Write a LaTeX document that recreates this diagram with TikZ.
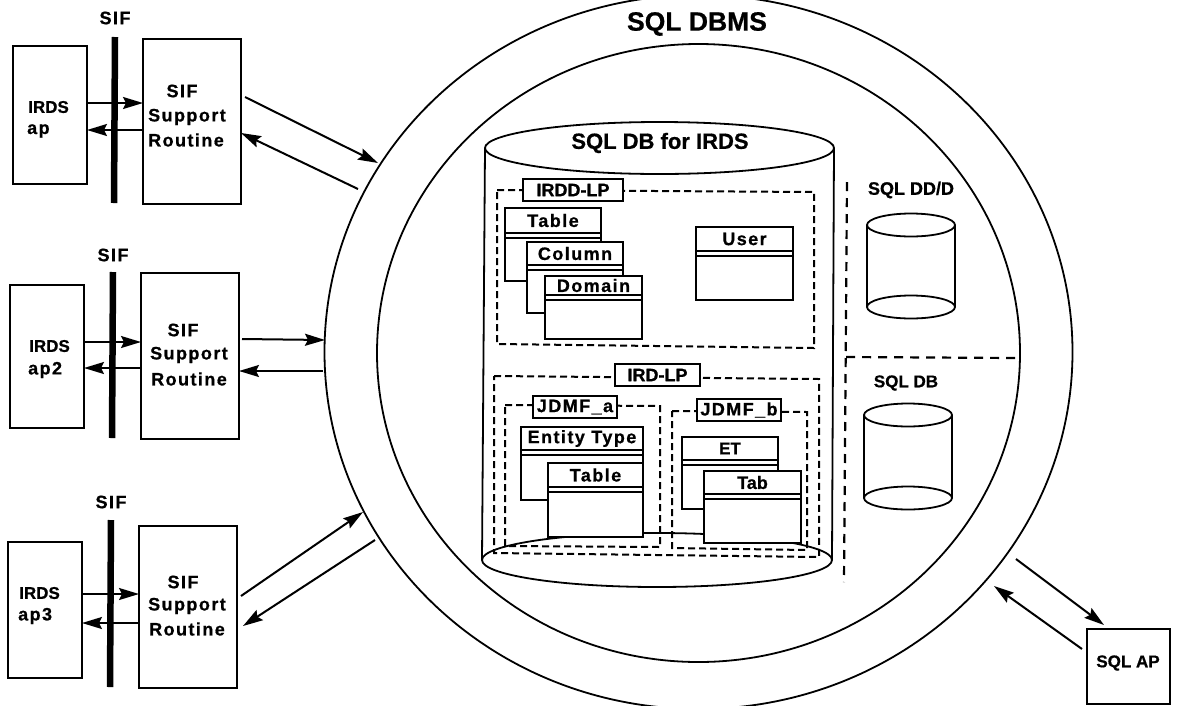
\documentclass[tikz,border=0pt]{standalone}
\usepackage{fontspec}
\setmainfont{Liberation Sans}
\newfontfamily\labf[LetterSpace=8,BoldFeatures={FakeBold=0.7}]{Liberation Sans}
\newfontfamily\tgtf[BoldFeatures={FakeBold=0.7}]{Liberation Sans}
\usetikzlibrary{arrows.meta}
\newcommand\lf{\labf\bfseries\fontsize{18}{18}\selectfont}
\newcommand\tf{\tgtf\bfseries\fontsize{18}{18}\selectfont}
\tikzset{
  lbl/.style={inner sep=0pt,font=\lf},
  tgt/.style={inner sep=0pt,font=\tgtf\bfseries\fontsize{17}{17}\selectfont},
  tg8/.style={inner sep=0pt,font=\tf},
  ttl/.style={inner sep=0pt,font=\tgtf\bfseries\fontsize{22}{22}\selectfont},
  big/.style={inner sep=0pt,font=\tgtf\bfseries\fontsize{26.5}{26.5}\selectfont},
  plain/.style={draw,line width=1.8pt,fill=white,inner sep=0pt,outer sep=0pt},
  arr/.style={line width=2pt,-{Stealth[length=20pt,width=12pt,inset=3pt]}},
  frame/.style={line width=2pt,dash pattern=on 7pt off 4pt},
  sep/.style={line width=2.2pt,dash pattern=on 9pt off 7pt},
  ring/.style={line width=1.8pt},
  bar/.style={line width=6.5pt}
}
% box from corners
\newcommand\bx[6]{%
  \pgfmathsetmacro\bxw{#4-#2}\pgfmathsetmacro\bxh{#5-#3}%
  \pgfmathsetmacro\bxx{(#2+#4)/2}\pgfmathsetmacro\bxy{(#3+#5)/2}%
  \node[plain,minimum width=\bxw pt,minimum height=\bxh pt] (#1) at (\bxx,\bxy) {#6};}
% class box: corners, y of the double rule, title style, title
\newcommand\cbx[8]{%
  \bx{#1}{#2}{#3}{#4}{#5}{}%
  \pgfmathsetmacro\cby{#6+5}\pgfmathsetmacro\cbt{(#3+#6)/2}\pgfmathsetmacro\cbc{(#2+#4)/2}%
  \draw[line width=1.8pt] (#1.west |- 0,#6) -- (#1.east |- 0,#6);
  \draw[line width=1.8pt] (#1.west |- 0,\cby) -- (#1.east |- 0,\cby);
  \node[#7] (#1-t) at (\cbc,\cbt) {#8};}
% open cylinder
\newcommand\cyl[7]{%
  \pgfmathsetmacro\cyc{(#2+#4)/2}\pgfmathsetmacro\cyr{(#4-#2)/2}%
  \draw[ring,fill=white] (\cyc,#6) ellipse [x radius=\cyr,y radius=#7];
  \draw[ring] (#2,#3) -- (#2,#6) (#4,#3) -- (#4,#6);
  \draw[ring,fill=white] (\cyc,#3) ellipse [x radius=\cyr,y radius=#7];}
\begin{document}
\begin{tikzpicture}[x=1pt,y=-1pt]
\useasboundingbox (0,0) rectangle (1178,705);
\begin{scope}
\clip (0,0) rectangle (1178,705);
\draw[ring] (698.5,352) ellipse [x radius=374,y radius=357];
\draw[ring] (698.5,353) ellipse [x radius=321.5,y radius=309];
\end{scope}
\node[big] (dbms) at (697,24) {SQL DBMS};

% main cylinder
\draw[ring] (657,560) ellipse [x radius=175,y radius=27];
\draw[ring] (485,148) -- (482,560) (834,148) -- (832,560);
\draw[ring] (659.5,148) ellipse [x radius=174.5,y radius=26];
\node[ttl] (dbt) at (660,143) {SQL DB for IRDS};

% IRDD-LP
\draw[frame] (497,190) -- (814,192) -- (814,348) -- (497,344) -- cycle;
\bx{irdd}{523}{179}{623}{201}{\tf IRDD-LP}
\cbx{table}{505}{208}{601}{281}{233}{lbl}{Table}
\cbx{column}{527}{242}{623}{313}{265}{lbl}{Column}
\cbx{domain}{545}{276}{642}{339}{295}{lbl}{Domain}
\cbx{user}{696}{227}{793}{300}{251}{lbl}{User}

% IRD-LP
\draw[frame] (494,376) -- (819,379) -- (819,557) -- (494,553) -- cycle;
\bx{ird}{615}{364}{700}{386}{\tf IRD-LP}
\draw[frame] (505,405) -- (660,406) -- (660,547) -- (505,546) -- cycle;
\bx{ja}{533}{396}{617}{418}{\lf JDMF\_a}
\draw[frame] (672,411) -- (807,412) -- (807,550) -- (672,548) -- cycle;
\bx{jb}{697}{399}{781}{421}{\lf JDMF\_b}
\cbx{etype}{521}{427}{643}{500}{450}{lbl}{Entity Type}
\cbx{tableb}{548}{463}{643}{537}{487}{lbl}{Table}
\cbx{et}{682}{437}{778}{509}{460}{tgt}{ET}
\cbx{tab}{704}{471}{801}{543}{494}{tg8}{Tab}

% separators
\coordinate (septop) at (847,182);
\coordinate (sepbot) at (844,582);
\coordinate (sepmid) at (846,357);
\coordinate (sepend) at (1016,358);
\draw[sep] (septop) -- (sepbot);
\draw[sep] (sepmid) -- (sepend);

% small databases
\node[tg8] (ddl) at (911,190) {SQL DD/D};
\cyl{dd}{867}{225}{955}{225}{307}{11.5}
\node[tgt] (dbl) at (906,383) {SQL DB};
\cyl{db}{864}{415}{952}{415}{498}{11.5}

% SQL AP
\bx{ap}{1087}{629}{1170}{704}{}
\node[tgt] (apt) at (1128,663) {SQL AP};
\coordinate (apa) at (1016,559);
\coordinate (apb) at (1104,625);
\coordinate (apc) at (1082,649);
\coordinate (apd) at (994,586);
\draw[arr] (apa) -- (apb);
\draw[arr] (apc) -- (apd);

% group 1
\bx{a1}{13}{46}{87}{184}{}
\node[tgt,anchor=west] (a1t) at (28,107) {IRDS};
\node[lbl,anchor=west] (a1u) at (27,131) {ap};
\node[lbl] (s1l) at (115,18) {SIF};
\coordinate (b1t) at (115,37); \coordinate (b1b) at (114,203);
\draw[bar] (b1t) -- (b1b);
\bx{r1}{143}{39}{241}{204}{}
\node[lbl] (r1a) at (182,91) {SIF};
\node[lbl] (r1b) at (187,117) {Support};
\node[lbl] (r1c) at (186,140) {Routine};
\draw[arr] (a1.east |- 0,103) -- (r1.west |- 0,103);
\draw[arr] (r1.west |- 0,130) -- (a1.east |- 0,130);
\coordinate (o1a) at (245,97); \coordinate (o1b) at (378,163);
\coordinate (o1c) at (358,189); \coordinate (o1d) at (241,133);
\draw[arr] (o1a) -- (o1b);
\draw[arr] (o1c) -- (o1d);

% group 2
\bx{a2}{10}{285}{84}{428}{}
\node[tgt,anchor=west] (a2t) at (29,346) {IRDS};
\node[lbl,anchor=west] (a2u) at (28,370) {ap2};
\node[lbl] (s2l) at (113,255) {SIF};
\coordinate (b2t) at (113,272); \coordinate (b2b) at (112,438);
\draw[bar] (b2t) -- (b2b);
\bx{r2}{141}{273}{239}{439}{}
\node[lbl] (r2a) at (183,330) {SIF};
\node[lbl] (r2b) at (189,355) {Support};
\node[lbl] (r2c) at (189,379) {Routine};
\draw[arr] (a2.east |- 0,342) -- (r2.west |- 0,342);
\draw[arr] (r2.west |- 0,368) -- (a2.east |- 0,368);
\coordinate (o2a) at (242,339); \coordinate (o2b) at (325,340);
\coordinate (o2c) at (323,371); \coordinate (o2d) at (239,371);
\draw[arr] (o2a) -- (o2b);
\draw[arr] (o2c) -- (o2d);

% group 3
\bx{a3}{8}{542}{82}{678}{}
\node[tgt,anchor=west] (a3t) at (19,593) {IRDS};
\node[lbl,anchor=west] (a3u) at (18,616) {ap3};
\node[lbl] (s3l) at (111,502) {SIF};
\coordinate (b3t) at (111,520); \coordinate (b3b) at (110,687);
\draw[bar] (b3t) -- (b3b);
\bx{r3}{139}{526}{237}{688}{}
\node[lbl] (r3a) at (183,582) {SIF};
\node[lbl] (r3b) at (187,606) {Support};
\node[lbl] (r3c) at (187,629) {Routine};
\draw[arr] (a3.east |- 0,594) -- (r3.west |- 0,594);
\draw[arr] (r3.west |- 0,623) -- (a3.east |- 0,623);
\coordinate (o3a) at (241,596); \coordinate (o3b) at (363,512);
\coordinate (o3c) at (375,540); \coordinate (o3d) at (243,626);
\draw[arr] (o3a) -- (o3b);
\draw[arr] (o3c) -- (o3d);
\end{tikzpicture}
\end{document}
